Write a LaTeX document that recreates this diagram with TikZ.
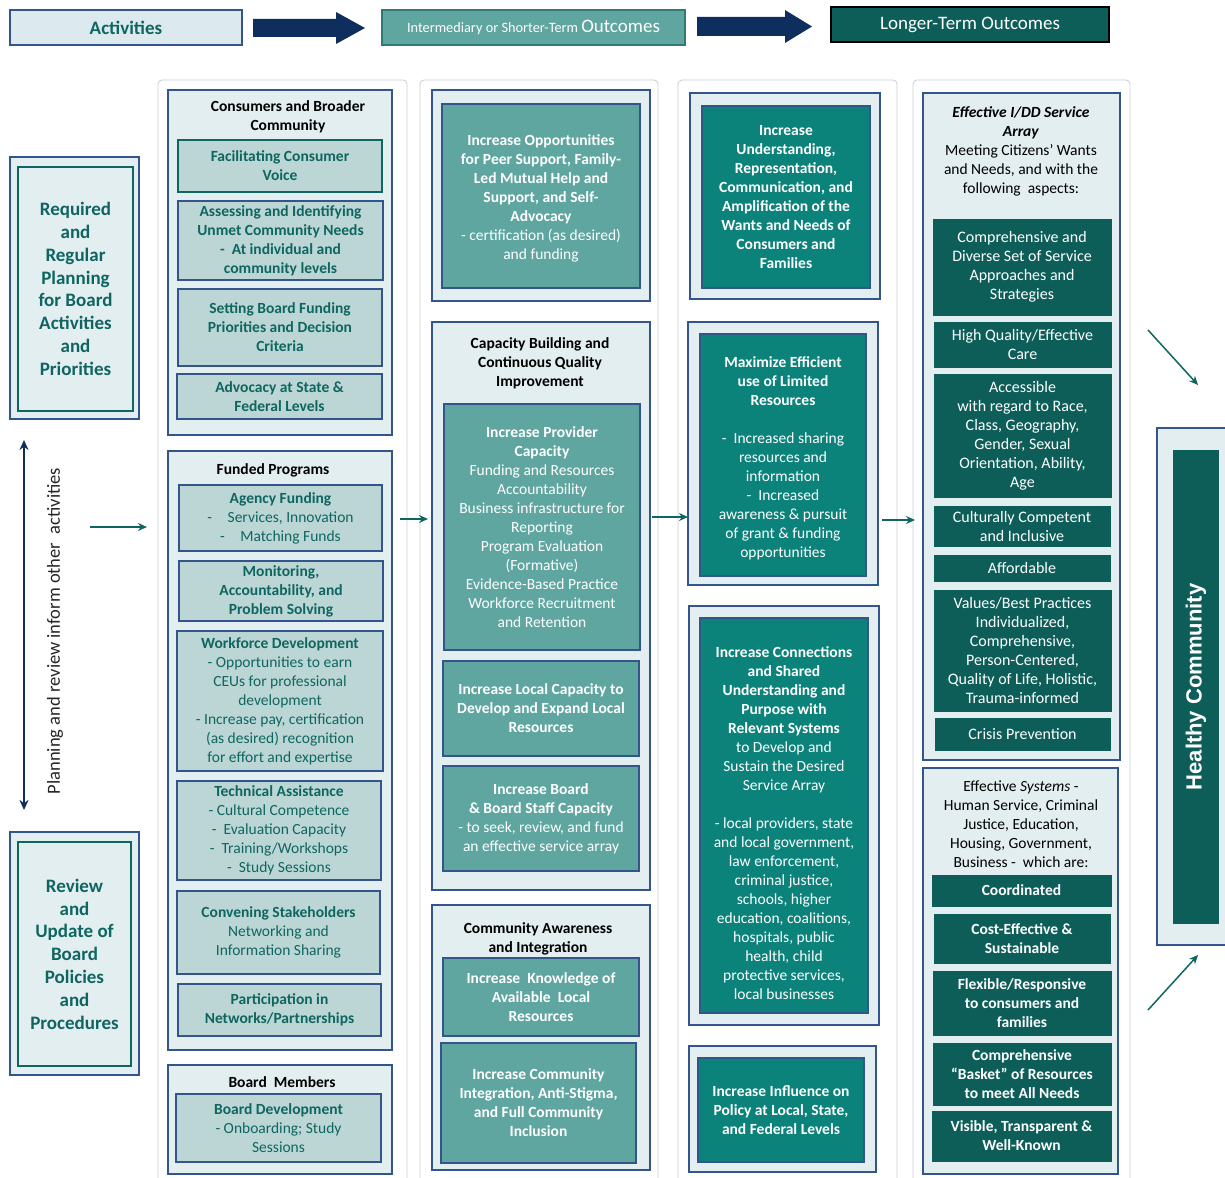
\documentclass[tikz,border=0pt]{standalone}
\usepackage{fontspec}
\setmainfont{Carlito}
\newfontfamily\hcfont{Liberation Sans}
\usetikzlibrary{arrows.meta}
\definecolor{navy}{HTML}{34558B}
\definecolor{arrnavy}{HTML}{0E2F5E}
\definecolor{lightbg}{HTML}{E3EEF1}
\definecolor{actfill}{HTML}{BBD6D5}
\definecolor{tealtext}{HTML}{0F6660}
\definecolor{midteal}{HTML}{5FA5A0}
\definecolor{midtealdk}{HTML}{2F7A74}
\definecolor{teal3}{HTML}{0B827A}
\definecolor{teal4}{HTML}{0D5E59}
\definecolor{framegray}{HTML}{C8CDD5}
\definecolor{hdrlight}{HTML}{DCEAF0}
\newcommand\fsn{\fontsize{15.5}{19}\selectfont}
\newcommand\mkbox[7]{%
  \pgfmathsetmacro\mkW{#5-#3}%
  \pgfmathsetmacro\mkH{#6-#4}%
  \pgfmathsetmacro\mkX{(#3+#5)/2}%
  \pgfmathsetmacro\mkY{(#4+#6)/2}%
  \node[#1, minimum width=\mkW pt, minimum height=\mkH pt] (#2) at (\mkX,\mkY) {#7};}
\begin{document}
\begin{tikzpicture}[x={(1pt,0pt)}, y={(0pt,-1pt)},
  bx/.style={line width=1.5pt, inner sep=0pt, align=center, font=\fsn},
  grp/.style={bx, draw=navy, fill=lightbg},
  act/.style={bx, draw=navy, fill=actfill, text=tealtext},
  actb/.style={act, font=\fsn\bfseries},
  midbx/.style={bx, draw=navy, fill=midteal, text=white},
  midbxb/.style={midbx, font=\fsn\bfseries},
  tlc/.style={bx, draw=navy, fill=teal3, text=white},
  tlcb/.style={tlc, font=\fsn\bfseries},
  dk/.style={bx, draw=teal4, line width=0.5pt, fill=teal4, text=white, font=\fontsize{16}{19}\selectfont},
  dkb/.style={dk, font=\fsn\bfseries},
  ttl/.style={inner sep=0pt, align=center, font=\fsn\bfseries, text=black},
  wtxt/.style={inner sep=0pt, align=center, font=\fsn, text=white},
  conn/.style={draw=tealtext, line width=1.5pt, -{Stealth[length=9pt,width=8pt]}},
  colframe/.style={draw=framegray, line width=0.8pt, rounded corners=4pt},
  outerbx/.style={draw=navy, line width=1.6pt, fill=lightbg, inner sep=0pt},
  innerbx/.style={draw=tealtext, line width=2.2pt, fill=lightbg, inner sep=0pt, align=center, text=tealtext, font=\fontsize{19}{22.8}\selectfont\bfseries},
]
\fill[white] (0,0) rectangle (1225,1177);
\useasboundingbox (0,0) rectangle (1225,1177);

% column frames
\draw[colframe] (158,1180) -- (158,80) -- (407,80) -- (407,1180);
\draw[colframe] (420,1180) -- (420,80) -- (658,80) -- (658,1180);
\draw[colframe] (678,1180) -- (678,80) -- (897,80) -- (897,1180);
\draw[colframe] (913,1180) -- (913,80) -- (1130,80) -- (1130,1180);

% header
\mkbox{draw=navy, line width=1.5pt, fill=hdrlight, inner sep=0pt, text=tealtext, font=\fontsize{19}{22}\selectfont\bfseries}{hact}{10}{10}{242}{45}{Activities}
\mkbox{draw=midtealdk, line width=1.5pt, fill=midteal, inner sep=0pt, text=white}{hint}{382}{10}{685}{45}{{\fontsize{14.3}{16}\selectfont Intermediary or Shorter-Term }{\fontsize{19}{22}\selectfont Outcomes}}
\mkbox{draw=black, line width=1.5pt, fill=teal4, inner sep=0pt, text=white, font=\fontsize{19}{22}\selectfont}{hlong}{831}{7}{1109}{42}{Longer-Term Outcomes}
\fill[arrnavy] (253,19) -- (336,19) -- (336,12) -- (365,28) -- (336,44) -- (336,37) -- (253,37) -- cycle;
\fill[arrnavy] (697,17) -- (785,17) -- (785,10) -- (812,26.5) -- (785,43) -- (785,36) -- (697,36) -- cycle;

% left boxes
\mkbox{outerbx}{reqo}{10}{157}{139}{419}{}
\mkbox{innerbx}{req}{18}{167}{133}{411}{Required\\and\\Regular\\Planning\\for Board\\Activities\\and\\Priorities}
\mkbox{outerbx}{revo}{10}{832}{139}{1075}{}
\mkbox{innerbx}{rev}{18}{842}{131}{1066}{Review\\and\\Update of\\Board\\Policies\\and\\Procedures}
\coordinate (pa1) at (24,440);
\coordinate (pa2) at (24,810);
\draw[draw=arrnavy, line width=2pt, {Stealth[length=10pt,width=9pt]}-{Stealth[length=10pt,width=9pt]}] (pa1) -- (pa2);
\node[rotate=90, inner sep=0pt, font=\fontsize{18.5}{21}\selectfont, text=black!85] (plan) at (55,631) {Planning and review inform other\ \ activities};
\coordinate (la1) at (90,527);
\coordinate (la2) at (147,527);
\draw[conn] (la1) -- (la2);

% column 1
\mkbox{grp}{g1}{168}{90}{392}{435}{}
\node[ttl] (g1t) at (288,117) {Consumers and Broader\\Community};
\mkbox{actb, draw=tealtext}{fcv}{178}{140}{382}{192}{Facilitating Consumer\\Voice}
\mkbox{actb}{aiu}{178}{201}{383}{280}{Assessing and Identifying\\Unmet Community Needs\\-\ \ At individual and\\community levels}
\mkbox{actb}{sbf}{178}{289}{382}{366}{Setting Board Funding\\Priorities and Decision\\Criteria}
\mkbox{actb}{adv}{177}{374}{382}{419}{Advocacy at State \&\\Federal Levels}

\mkbox{grp}{g2}{168}{451}{392}{1050}{}
\node[ttl] (g2t) at (273,470) {Funded Programs};
\mkbox{act}{agf}{179}{485}{382}{551}{\textbf{Agency Funding}\\-\quad Services, Innovation\\-\quad Matching Funds}
\mkbox{actb}{mon}{179}{561}{383}{621}{Monitoring,\\Accountability, and\\Problem Solving}
\mkbox{act}{wfd}{177}{631}{383}{771}{\textbf{Workforce Development}\\- Opportunities to earn\\CEUs for professional\\development\\- Increase pay, certification\\(as desired) recognition\\for effort and expertise}
\mkbox{act}{tas}{177}{781}{381}{880}{\textbf{Technical Assistance}\\- Cultural Competence\\-\ \ Evaluation Capacity\\-\ \ Training/Workshops\\-\ \ Study Sessions}
\mkbox{act}{cvs}{177}{891}{380}{974}{\textbf{Convening Stakeholders}\\Networking and\\Information Sharing}
\mkbox{actb}{par}{178}{984}{381}{1036}{Participation in\\Networks/Partnerships}

\mkbox{grp}{g3}{168}{1065}{392}{1174}{}
\node[ttl] (g3t) at (282,1082) {Board\ \ Members};
\mkbox{act}{bdv}{176}{1094}{381}{1162}{\textbf{Board Development}\\- Onboarding; Study\\Sessions}

% column 2
\mkbox{grp}{g4}{432}{90}{650}{301}{}
\mkbox{midbx}{iopb}{442}{104}{640}{288}{}
\node[wtxt, yshift=-2pt] (iop) at (iopb.center) {\textbf{Increase Opportunities}\\\textbf{for Peer Support, Family-}\\\textbf{Led Mutual Help and}\\\textbf{Support, and Self-}\\\textbf{Advocacy}\\- certification (as desired)\\and funding};
\mkbox{grp}{g5}{432}{322}{650}{890}{}
\node[ttl] (g5t) at (540,363) {Capacity Building and\\Continuous Quality\\Improvement};
\mkbox{midbx}{ipc}{444}{404}{640}{650}{\textbf{Increase Provider}\\\textbf{Capacity}\\Funding and Resources\\Accountability\\Business infrastructure for\\Reporting\\Program Evaluation\\(Formative)\\Evidence-Based Practice\\Workforce Recruitment\\and Retention}
\mkbox{midbxb}{ilc}{443}{661}{639}{756}{Increase Local Capacity to\\Develop and Expand Local\\Resources}
\mkbox{midbx}{ibc}{443}{766}{639}{871}{\textbf{Increase Board}\\\textbf{\& Board Staff Capacity}\\- to seek, review, and fund\\an effective service array}
\mkbox{grp}{g6}{432}{905}{650}{1170}{}
\node[ttl] (g6t) at (538,938.5) {Community Awareness\\and Integration};
\mkbox{midbxb}{ikn}{443}{958}{639}{1036}{Increase\ \ Knowledge of\\Available\ \ Local\\Resources}
\mkbox{midbxb}{ici}{441}{1043}{636}{1163}{Increase Community\\Integration, Anti-Stigma,\\and Full Community\\Inclusion}

% column 3
\mkbox{grp}{g7}{690}{93}{880}{299}{}
\mkbox{tlcb}{iun}{702}{106}{870}{288}{Increase\\Understanding,\\Representation,\\Communication, and\\Amplification of the\\Wants and Needs of\\Consumers and\\Families}
\mkbox{grp}{g8}{688}{322}{878}{585}{}
\mkbox{tlc}{merb}{700}{334}{866}{576}{}
\node[wtxt, yshift=-3.5pt] (mer) at (merb.center) {\textbf{Maximize Efficient}\\\textbf{use of Limited}\\\textbf{Resources}\\[19pt]-\ \ Increased sharing\\resources and\\information\\-\ \ Increased\\awareness \& pursuit\\of grant \& funding\\opportunities};
\mkbox{grp}{g9}{689}{606}{879}{1025}{}
\mkbox{tlc}{icnb}{700}{618}{868}{1013}{}
\node[wtxt, yshift=-8pt] (icn) at (icnb.center) {\textbf{Increase Connections}\\\textbf{and Shared}\\\textbf{Understanding and}\\\textbf{Purpose with}\\\textbf{Relevant Systems}\\to Develop and\\Sustain the Desired\\Service Array\\[19pt]- local providers, state\\and local government,\\law enforcement,\\criminal justice,\\schools, higher\\education, coalitions,\\hospitals, public\\health, child\\protective services,\\local businesses};
\mkbox{grp}{g10}{689}{1046}{876}{1172}{}
\mkbox{tlcb}{iip}{698}{1058}{864}{1162}{Increase Influence on\\Policy at Local, State,\\and Federal Levels}

% column 4
\mkbox{grp}{g11}{923}{93}{1120}{760}{}
\node[inner sep=0pt, align=center, font=\fsn, text=black] (g11t) at (1021,151.5) {\textbf{\textit{Effective I/DD Service}}\\\textbf{\textit{Array}}\\Meeting Citizens’ Wants\\and Needs, and with the\\following\ \ aspects:};
\mkbox{dk}{c1}{933}{219}{1111}{315}{Comprehensive and\\Diverse Set of Service\\Approaches and\\Strategies}
\mkbox{dk}{c2}{934}{322}{1111}{367}{High Quality/Effective\\Care}
\mkbox{dk}{c3}{934}{374}{1111}{497}{Accessible\\with regard to Race,\\Class, Geography,\\Gender, Sexual\\Orientation, Ability,\\Age}
\mkbox{dk}{c4}{934}{506}{1110}{546}{Culturally Competent\\and Inclusive}
\mkbox{dk}{c5}{934}{555}{1110}{581}{Affordable}
\mkbox{dk}{c6}{934}{590}{1111}{711}{Values/Best Practices\\Individualized,\\Comprehensive,\\Person-Centered,\\Quality of Life, Holistic,\\Trauma-informed}
\mkbox{dk}{c7}{935}{718}{1110}{750}{Crisis Prevention}

\mkbox{grp}{g12}{923}{768}{1118}{1174}{}
\node[inner sep=0pt, align=center, font=\fsn, text=black] (g12t) at (1021,824) {Effective \textit{Systems} -\\Human Service, Criminal\\Justice, Education,\\Housing, Government,\\Business -\ \ which are:};
\mkbox{dkb}{s1}{932}{875}{1111}{906}{Coordinated}
\mkbox{dkb}{s2}{934}{914}{1110}{963}{Cost-Effective \&\\Sustainable}
\mkbox{dkb}{s3}{933}{971}{1111}{1035}{Flexible/Responsive\\to consumers and\\families}
\mkbox{dkb}{s4}{933}{1043}{1111}{1105}{Comprehensive\\“Basket” of Resources\\to meet All Needs}
\mkbox{dkb}{s5}{932}{1111}{1111}{1161}{Visible, Transparent \&\\Well-Known}

% healthy community
\mkbox{draw=navy, line width=1.5pt, fill=lightbg, inner sep=0pt}{hco}{1157}{428}{1240}{945}{}
\mkbox{fill=teal4, inner sep=0pt}{hci}{1173}{450}{1219}{924}{}
\node[rotate=90, inner sep=0pt, text=white, font=\hcfont\bfseries\fontsize{22}{26}\selectfont] (hct) at (hci.center) {Healthy Community};

% connectors
\coordinate (a1s) at (400,519); \coordinate (a1e) at (428,519);
\coordinate (a2s) at (652,517); \coordinate (a2e) at (688,517);
\coordinate (a3s) at (882,520); \coordinate (a3e) at (915,520);
\draw[conn] (a1s) -- (a1e);
\draw[conn] (a2s) -- (a2e);
\draw[conn] (a3s) -- (a3e);
\coordinate (d1s) at (1148,330); \coordinate (d1e) at (1198,385);
\coordinate (d2s) at (1148,1010); \coordinate (d2e) at (1198,955);
\draw[conn] (d1s) -- (d1e);
\draw[conn] (d2s) -- (d2e);
\end{tikzpicture}
\end{document}
